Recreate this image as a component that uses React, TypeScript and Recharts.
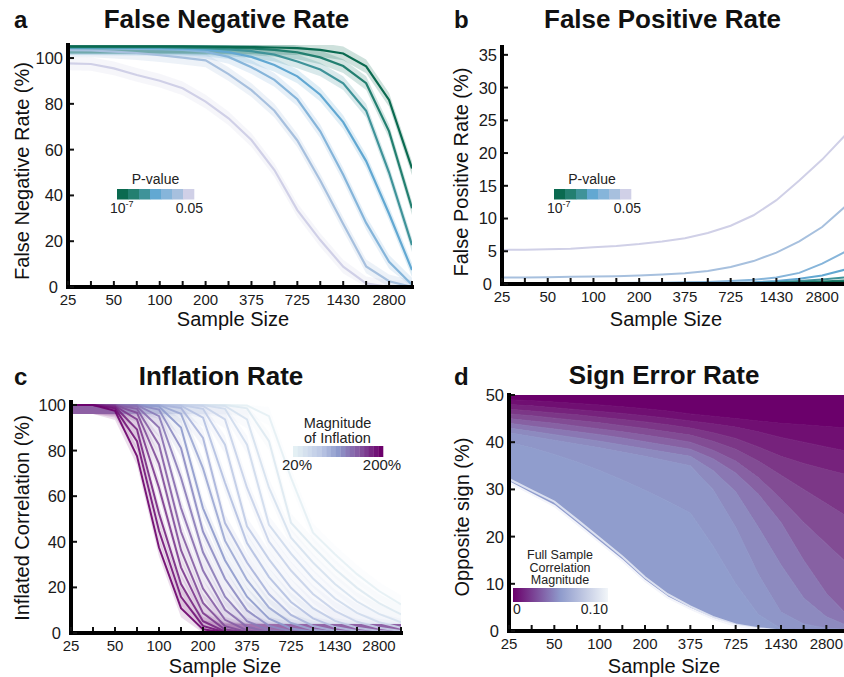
import React from 'react';
import { ComposedChart, Line, Area, XAxis, YAxis } from 'recharts';

const FONT = '"Liberation Sans", Arial, Helvetica, sans-serif';

// Sample-size positions on every x axis; every other position carries a label.
const SAMPLE_TICKS = ['25', '', '50', '', '100', '', '200', '', '375', '', '725', '', '1430', '', '2800', ''];
const POSITIONS = SAMPLE_TICKS.map((_, i) => i);

// ---- a: false negative rate (%) for each p-value threshold ----
const FNR_P05 = [97.7, 97.4, 95.5, 92.6, 90.1, 86.8, 81.0, 73.7, 64.2, 51.1, 33.6, 20.5, 8.9, 1.6, 0, 0];
const FNR_P01 = [103.5, 103.3, 102.8, 102.2, 101.3, 100.2, 99.0, 93.0, 86.0, 77.0, 64.0, 46.5, 27.5, 9.0, 2.5, 0];
const FNR_P001 = [104.2, 104.2, 104.1, 104.0, 103.9, 103.6, 102.8, 100.5, 96.0, 90.5, 82.0, 68.0, 49.0, 28.0, 11.0, 1.0];
const FNR_P1E4 = [104.5, 104.5, 104.5, 104.4, 104.3, 104.1, 103.7, 102.6, 100.5, 97.0, 92.0, 84.0, 72.0, 55.0, 32.0, 7.4];
const FNR_P1E5 = [104.7, 104.7, 104.7, 104.7, 104.6, 104.5, 104.3, 103.8, 103.0, 101.5, 98.5, 95.0, 89.0, 77.0, 50.0, 18.3];
const FNR_P1E6 = [104.9, 104.9, 104.9, 104.9, 104.9, 104.8, 104.7, 104.5, 104.2, 103.6, 102.5, 100.3, 96.5, 89.0, 68.0, 34.4];
const FNR_P1E7 = [105.1, 105.1, 105.1, 105.1, 105.1, 105.1, 105.0, 104.9, 104.8, 104.6, 104.3, 103.6, 102.0, 96.4, 81.7, 51.8];
const FNR_SERIES = [FNR_P05, FNR_P01, FNR_P001, FNR_P1E4, FNR_P1E5, FNR_P1E6, FNR_P1E7];
const FNR_BAND = 3; // half-width of the shaded interval, percentage points
const FNR_TICKS = [0, 20, 40, 60, 80, 100];

// ---- b: false positive rate (%) for each p-value threshold ----
const FPR_P05 = [5.2, 5.25, 5.3, 5.4, 5.6, 5.8, 6.1, 6.5, 7.0, 7.8, 8.9, 10.5, 12.8, 15.8, 19.0, 22.7];
const FPR_P01 = [1.0, 1.0, 1.05, 1.1, 1.15, 1.2, 1.3, 1.45, 1.65, 2.0, 2.6, 3.5, 4.8, 6.5, 8.7, 11.8];
const FPR_P001 = [0.15, 0.15, 0.15, 0.15, 0.15, 0.16, 0.18, 0.2, 0.25, 0.32, 0.45, 0.65, 1.0, 1.7, 3.1, 4.9];
const FPR_P1E4 = [0.05, 0.05, 0.05, 0.05, 0.05, 0.05, 0.06, 0.07, 0.09, 0.12, 0.17, 0.26, 0.45, 0.8, 1.3, 2.2];
const FPR_P1E5 = [0.02, 0.02, 0.02, 0.02, 0.02, 0.02, 0.02, 0.03, 0.03, 0.05, 0.08, 0.14, 0.25, 0.45, 0.7, 1.0];
const FPR_P1E6 = [0.01, 0.01, 0.01, 0.01, 0.01, 0.01, 0.01, 0.01, 0.02, 0.02, 0.04, 0.08, 0.15, 0.25, 0.4, 0.55];
const FPR_P1E7 = [0.01, 0.01, 0.01, 0.01, 0.01, 0.01, 0.01, 0.01, 0.01, 0.02, 0.03, 0.06, 0.1, 0.15, 0.22, 0.3];
const FPR_SERIES = [FPR_P05, FPR_P01, FPR_P001, FPR_P1E4, FPR_P1E5, FPR_P1E6, FPR_P1E7];
const FPR_TICKS = [0, 5, 10, 15, 20, 25, 30, 35];

// p-value colours, 0.05 → 1e-7
const P_COLORS = ['#d0d0e7', '#a7c0de', '#86b5da', '#62a8d2', '#3f9399', '#237f70', '#0a6a50'];

// ---- c: share of inflated correlations (%) per inflation magnitude ----
const INF_020 = [100, 100, 100, 100, 100, 100, 100, 100, 99.8, 95.1, 68.1, 44.0, 34.5, 25.8, 18.4, 12.5];
const INF_030 = [100, 100, 100, 100, 100, 100, 100, 100, 98.5, 84.1, 48.4, 37.8, 28.1, 19.8, 13.1, 8.2];
const INF_040 = [100, 100, 100, 100, 100, 100, 100, 99.6, 93.7, 63.7, 41.8, 30.9, 21.5, 13.8, 8.4, 4.7];
const INF_050 = [100, 100, 100, 100, 100, 100, 100, 98.3, 82.6, 47.4, 34.8, 23.9, 15.1, 8.8, 4.7, 2.3];
const INF_060 = [100, 100, 100, 100, 100, 100, 99.6, 93.7, 63.7, 40.1, 27.4, 17.1, 9.7, 4.9, 2.3, 0.9];
const INF_070 = [100, 100, 100, 100, 100, 100, 98.3, 82.6, 46.8, 32.3, 19.8, 10.9, 5.3, 2.3, 0.9, 0.3];
const INF_080 = [100, 100, 100, 100, 100, 99.7, 94.4, 65.9, 39.4, 24.5, 13.6, 6.4, 2.6, 0.9, 0.3, 0.1];
const INF_090 = [100, 100, 100, 100, 100, 98.7, 85.5, 48.2, 30.9, 17.1, 7.9, 3.1, 1.0, 0.3, 0.1, 0];
const INF_100 = [100, 100, 100, 100, 99.9, 96.1, 72.2, 40.5, 23.3, 11.1, 4.4, 1.4, 0.4, 0.1, 0, 0];
const INF_110 = [100, 100, 100, 100, 99.3, 90.1, 54.7, 31.9, 15.9, 6.3, 2.0, 0.5, 0.1, 0, 0, 0];
const INF_120 = [100, 100, 100, 100, 98.0, 81.1, 44.4, 23.8, 9.9, 3.1, 0.8, 0.1, 0, 0, 0, 0];
const INF_130 = [100, 100, 100, 99.9, 95.1, 68.1, 35.4, 15.9, 5.2, 1.2, 0.2, 0, 0, 0, 0, 0];
const INF_140 = [100, 100, 100, 99.3, 90.1, 54.8, 27.4, 10.2, 2.7, 0.5, 0, 0, 0, 0, 0, 0];
const INF_150 = [100, 100, 100, 98.3, 82.6, 44.4, 19.5, 5.8, 1.1, 0.1, 0, 0, 0, 0, 0, 0];
const INF_160 = [100, 100, 99.9, 96.6, 74.2, 36.3, 13.2, 3.0, 0.4, 0, 0, 0, 0, 0, 0, 0];
const INF_170 = [100, 100, 99.6, 93.7, 63.7, 28.8, 8.7, 1.5, 0.2, 0, 0, 0, 0, 0, 0, 0];
const INF_180 = [100, 100, 99.2, 89.2, 52.4, 21.5, 5.2, 0.7, 0.1, 0, 0, 0, 0, 0, 0, 0];
const INF_190 = [100, 100, 98.5, 84.1, 44.8, 15.9, 3.1, 0.3, 0, 0, 0, 0, 0, 0, 0, 0];
const INF_200 = [100, 100, 97.4, 77.6, 37.5, 10.9, 1.6, 0.1, 0, 0, 0, 0, 0, 0, 0, 0];
const INFLATION_SERIES = [
  INF_020, INF_030, INF_040, INF_050, INF_060, INF_070, INF_080, INF_090, INF_100, INF_110,
  INF_120, INF_130, INF_140, INF_150, INF_160, INF_170, INF_180, INF_190, INF_200,
];
const INF_BAND = 4;
const INF_TICKS = [0, 20, 40, 60, 80, 100];

// ---- d: opposite-sign rate (%) per full-sample correlation level, weakest to strongest ----
const SIGN_R00 = [50, 50, 50, 50, 50, 50, 50, 50, 50, 50, 50, 50, 50, 50, 50, 50];
const SIGN_R01 = [49, 48.8, 48.5, 48.2, 47.9, 47.5, 47.1, 46.6, 46, 45.5, 45, 44.5, 44, 43.7, 43.3, 43];
const SIGN_R02 = [48, 47.7, 47.3, 46.9, 46.5, 46.1, 45.6, 45.1, 44.5, 43.9, 43.2, 42.2, 41, 40, 39, 38];
const SIGN_R03 = [47, 46.6, 46.2, 45.8, 45.3, 44.8, 44.3, 43.7, 43, 42, 40.8, 39, 37, 35.5, 34.2, 33];
const SIGN_R04 = [46, 45.6, 45.1, 44.6, 44.1, 43.5, 42.9, 42.2, 41.5, 40.2, 38.5, 36, 33, 30, 27, 24];
const SIGN_R05 = [45, 44.5, 44, 43.4, 42.8, 42.2, 41.5, 40.8, 40, 38.3, 36, 32.5, 28, 23, 18.5, 14];
const SIGN_R06 = [44, 43.4, 42.8, 42.2, 41.6, 40.9, 40.1, 39.3, 38.5, 36.5, 33.5, 29, 23, 15, 8, 3];
const SIGN_R07 = [43, 42.3, 41.6, 40.9, 40.2, 39.4, 38.6, 37.8, 37, 34, 29.5, 22, 14, 7, 3, 1];
const SIGN_R08 = [42, 41.2, 40.4, 39.6, 38.8, 37.9, 37, 36, 35, 30, 22, 12, 4, 1.5, 0.6, 0.3];
const SIGN_R09 = [40, 38.8, 37.4, 35.8, 34, 32, 29.8, 27.5, 25, 18, 10, 3.5, 0.5, 0.2, 0.1, 0.1];
const SIGN_R10 = [31.5, 29, 26.5, 22.7, 18.8, 14.9, 10.6, 7.1, 4.7, 2.6, 1.1, 0.4, 0, 0, 0, 0];
const SIGN_R10_B = [32.2, 29.8, 27.4, 23.6, 19.7, 15.8, 11.4, 7.8, 5.2, 3.0, 1.4, 0.6, 0.1, 0, 0, 0];
const SIGN_LEVELS = [SIGN_R00, SIGN_R01, SIGN_R02, SIGN_R03, SIGN_R04, SIGN_R05, SIGN_R06, SIGN_R07, SIGN_R08, SIGN_R09, SIGN_R10];
const SIGN_TICKS = [0, 10, 20, 30, 40, 50];
const SIGN_COLORS = ['#6b006b', '#700f72', '#76227c', '#7c3787', '#824c94', '#8761a3', '#8a77b3', '#8d8abf', '#8f96c8', '#909dcd'];

// ---- colour helpers ----
const hexToRgb = (h: string) => [1, 3, 5].map((p) => parseInt(h.slice(p, p + 2), 16));
const mix = (a: string, b: string, t: number) => {
  const A = hexToRgb(a);
  const B = hexToRgb(b);
  return `rgb(${A.map((v, i) => Math.round(v + (B[i] - v) * t)).join(',')})`;
};
const ramp = (stops: [number, string][], t: number) => {
  for (let k = 1; k < stops.length; k++) {
    if (t <= stops[k][0]) {
      const [t0, c0] = stops[k - 1];
      const [t1, c1] = stops[k];
      return mix(c0, c1, (t - t0) / (t1 - t0));
    }
  }
  return stops[stops.length - 1][1];
};
const INF_STOPS: [number, string][] = [[0, '#e4f0f4'], [0.3, '#bcc8e5'], [0.5, '#8e9acc'], [0.75, '#84559f'], [1, '#6c006b']];
const infColor = (k: number) => ramp(INF_STOPS, k / (INFLATION_SERIES.length - 1));

// ---- axis tick renderers (ticks point into the plot) ----
const xTick = (props: any) => {
  const { x, y, payload } = props;
  const label = SAMPLE_TICKS[payload.value] ?? '';
  return (
    <g>
      <line x1={x} x2={x} y1={y - 2} y2={y - 6} stroke="#111" strokeWidth={2} />
      {label ? (
        <text x={x} y={y + 17.5} textAnchor="middle" fontSize={15} fontFamily={FONT} fill="#1a1a1a">
          {label}
        </text>
      ) : null}
    </g>
  );
};
const yTick = (props: any) => {
  const { x, y, payload } = props;
  // the zero label sits a little further left so it clears the first x label
  const gap = payload.value === 0 ? 10 : 5;
  return (
    <g>
      <line x1={x + 2} x2={x + 6} y1={y} y2={y} stroke="#111" strokeWidth={2} />
      <text x={x - gap} y={y} dy="0.36em" textAnchor="end" fontSize={16.5} fontFamily={FONT} fill="#1a1a1a">
        {payload.value}
      </text>
    </g>
  );
};

const AXIS_LINE = { stroke: '#000', strokeWidth: 4, strokeLinecap: 'square' as const };
const Y_W = 40;
const X_H = 30;

const xAxis = (
  <XAxis
    type="number"
    dataKey="i"
    domain={[0, 15]}
    ticks={POSITIONS}
    interval={0}
    height={X_H}
    tickSize={0}
    tickMargin={0}
    tickLine={false}
    axisLine={AXIS_LINE}
    tick={xTick}
    allowDataOverflow
  />
);
const yAxis = (domain: number[], ticks: number[]) => (
  <YAxis
    type="number"
    domain={domain}
    ticks={ticks}
    interval={0}
    width={Y_W}
    tickSize={0}
    tickMargin={0}
    tickLine={false}
    axisLine={AXIS_LINE}
    tick={yTick}
    allowDataOverflow
  />
);

// plot-area edges in page pixels → chart margins
const marginFor = (w: number, h: number, l: number, r: number, t: number, b: number) => ({
  left: l - Y_W,
  right: w - r,
  top: t,
  bottom: h - b - X_H,
});

// ---- rows ----
const fnrRows = POSITIONS.map((i) => {
  const r: any = { i };
  FNR_SERIES.forEach((s, k) => {
    r[`v${k}`] = s[i];
    r[`b${k}`] = [Math.max(0, s[i] - FNR_BAND), s[i] + FNR_BAND];
  });
  return r;
});
const fprRows = POSITIONS.map((i) => {
  const r: any = { i };
  FPR_SERIES.forEach((s, k) => {
    r[`v${k}`] = s[i];
  });
  return r;
});
const infRows = POSITIONS.map((i) => {
  const r: any = { i };
  INFLATION_SERIES.forEach((s, k) => {
    r[`v${k}`] = s[i];
    r[`b${k}`] = [Math.max(0, s[i] - INF_BAND), Math.min(100, s[i] + INF_BAND)];
  });
  return r;
});
const signRows = POSITIONS.map((i) => {
  const r: any = { i, edgeA: SIGN_R10[i], edgeB: SIGN_R10_B[i] };
  for (let k = 0; k < SIGN_LEVELS.length - 1; k++) {
    r[`b${k}`] = [SIGN_LEVELS[k + 1][i], SIGN_LEVELS[k][i]];
  }
  return r;
});

const box = (left: number, top: number): React.CSSProperties => ({ position: 'absolute', left, top });

export default function App() {
  const txt = { fontFamily: FONT, fill: '#111' };
  return (
    <div style={{ position: 'absolute', left: 0, top: 0, width: 844, height: 677, overflow: 'hidden', background: '#fff' }}>
      {/* a */}
      <div style={box(0, 0)}>
        <ComposedChart width={420} height={340} data={fnrRows} margin={marginFor(420, 340, 68, 412, 45, 287)}>
          {xAxis}
          {yAxis([0, 105.7], FNR_TICKS)}
          {FNR_SERIES.map((_, k) => (
            <Area key={`ba${k}`} type="linear" dataKey={`b${k}`} stroke="none" fill={P_COLORS[k]} fillOpacity={0.2} isAnimationActive={false} />
          ))}
          {FNR_SERIES.map((_, k) => (
            <Line key={`la${k}`} type="linear" dataKey={`v${k}`} stroke={P_COLORS[k]} strokeWidth={2.2} dot={false} activeDot={false} isAnimationActive={false} />
          ))}
        </ComposedChart>
      </div>
      {/* b */}
      <div style={box(420, 0)}>
        <ComposedChart width={430} height={340} data={fprRows} margin={marginFor(430, 340, 82, 425, 47, 284)}>
          {xAxis}
          {yAxis([0, 36.2], FPR_TICKS)}
          {FPR_SERIES.map((_, k) => (
            <Line key={`lb${k}`} type="linear" dataKey={`v${k}`} stroke={P_COLORS[k]} strokeWidth={2} dot={false} activeDot={false} isAnimationActive={false} />
          ))}
        </ComposedChart>
      </div>
      {/* c */}
      <div style={box(0, 330)}>
        <ComposedChart width={420} height={347} data={infRows} margin={marginFor(420, 347, 71, 401, 72, 303)}>
          {xAxis}
          {yAxis([0, 101.3], INF_TICKS)}
          {INFLATION_SERIES.map((_, k) => (
            <Area key={`bc${k}`} type="linear" dataKey={`b${k}`} stroke="none" fill={infColor(k)} fillOpacity={0.13} isAnimationActive={false} />
          ))}
          {INFLATION_SERIES.map((_, k) => (
            <Line key={`lc${k}`} type="linear" dataKey={`v${k}`} stroke={infColor(k)} strokeWidth={2} strokeOpacity={0.9} dot={false} activeDot={false} isAnimationActive={false} />
          ))}
        </ComposedChart>
      </div>
      {/* d */}
      <div style={box(420, 330)}>
        <ComposedChart width={430} height={347} data={signRows} margin={marginFor(430, 347, 89, 429, 65, 301)}>
          {xAxis}
          {yAxis([0, 50], SIGN_TICKS)}
          {SIGN_COLORS.map((c, k) => (
            <Area key={`bd${k}`} type="linear" dataKey={`b${k}`} stroke={c} strokeWidth={0.8} fill={c} fillOpacity={1} isAnimationActive={false} />
          ))}
          <Line type="linear" dataKey="edgeB" stroke="#e9ecf6" strokeWidth={2} strokeOpacity={0.85} dot={false} activeDot={false} isAnimationActive={false} />
          <Line type="linear" dataKey="edgeA" stroke="#f4f5fb" strokeWidth={2.2} dot={false} activeDot={false} isAnimationActive={false} />
        </ComposedChart>
      </div>

      {/* titles, axis titles and colour keys */}
      <svg width={844} height={677} style={{ position: 'absolute', left: 0, top: 0, pointerEvents: 'none' }}>
        <defs>
          <linearGradient id="signKey" x1="0" x2="1" y1="0" y2="0">
            <stop offset="0" stopColor="#6b006b" />
            <stop offset="0.5" stopColor="#8f9bcc" />
            <stop offset="1" stopColor="#f2f6f9" />
          </linearGradient>
        </defs>
        <g {...txt} fontWeight="bold">
          <text x={14} y={28} fontSize={24}>a</text>
          <text x={454} y={28} fontSize={24}>b</text>
          <text x={14} y={385} fontSize={24}>c</text>
          <text x={454} y={385} fontSize={24}>d</text>
          <text x={226.5} y={28} fontSize={26} textAnchor="middle">False Negative Rate</text>
          <text x={662.5} y={28} fontSize={26} textAnchor="middle">False Positive Rate</text>
          <text x={221} y={385} fontSize={26} textAnchor="middle">Inflation Rate</text>
          <text x={664} y={384} fontSize={26} textAnchor="middle">Sign Error Rate</text>
        </g>
        <g {...txt} fontSize={20} textAnchor="middle">
          <text x={233} y={326}>Sample Size</text>
          <text x={666} y={326}>Sample Size</text>
          <text x={225} y={673}>Sample Size</text>
          <text x={664} y={673}>Sample Size</text>
          <text transform="translate(29,171) rotate(-90)">False Negative Rate (%)</text>
          <text transform="translate(468,172) rotate(-90)">False Positive Rate (%)</text>
          <text transform="translate(28.5,518) rotate(-90)">Inflated Correlation (%)</text>
          <text transform="translate(469,517) rotate(-90)">Opposite sign (%)</text>
        </g>

        {/* p-value keys */}
        {[
          { cx: 155.5, bar: 117, lo: 110, hi: 203 },
          { cx: 592, bar: 554, lo: 547, hi: 641 },
        ].map((g, n) => (
          <g key={`pk${n}`} {...txt} fontSize={14}>
            <text x={g.cx} y={184} textAnchor="middle" fill="#222">P-value</text>
            {P_COLORS.slice().reverse().map((c, j) => (
              <rect key={j} x={g.bar + j * 11} y={189} width={11.3} height={10.5} fill={c} />
            ))}
            <text x={g.lo} y={213} fill="#222">
              10<tspan dy={-6} fontSize={9}>-7</tspan>
            </text>
            <text x={g.hi} y={213} textAnchor="end" fill="#222">0.05</text>
          </g>
        ))}

        {/* inflation key */}
        <g {...txt} fill="#222" fontSize={14.5} textAnchor="middle">
          <text x={337.5} y={428}>Magnitude</text>
          <text x={337.5} y={442.5}>of Inflation</text>
          {INFLATION_SERIES.map((_, k) => (
            <rect key={k} x={293 + (k * 90) / INFLATION_SERIES.length} y={446} width={90 / INFLATION_SERIES.length + 0.3} height={11} fill={infColor(k)} />
          ))}
          <text x={297} y={470} fontSize={15}>20%</text>
          <text x={382} y={470} fontSize={15}>200%</text>
        </g>

        {/* correlation magnitude key */}
        <g {...txt} fill="#222" fontSize={12.5} textAnchor="middle">
          <text x={560} y={559}>Full Sample</text>
          <text x={560} y={571.5}>Correlation</text>
          <text x={560} y={584}>Magnitude</text>
          <rect x={513} y={588} width={95} height={14} fill="url(#signKey)" />
          <text x={513} y={614} textAnchor="start" fontSize={14}>0</text>
          <text x={608} y={614} textAnchor="end" fontSize={14}>0.10</text>
        </g>
      </svg>
    </div>
  );
}
